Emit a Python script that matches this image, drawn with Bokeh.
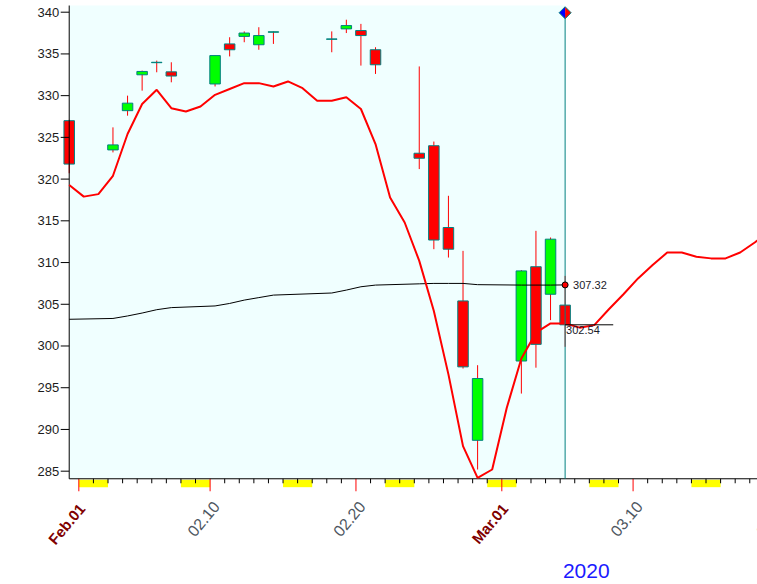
import math
from bokeh.plotting import figure
from bokeh.models import Range1d
from bokeh.core.properties import value
from bokeh.embed import file_html
from bokeh.resources import INLINE

# ---------------- data (days counted from Feb 1 2020) ----------------
candle_day = [-1, 2, 3, 4, 5, 6, 9, 10, 11, 12, 13, 17, 18, 19, 20,
              23, 24, 25, 26, 27, 30, 31, 32, 33]
open_ = [327.0, 323.5, 328.2, 332.5, 333.95, 332.85, 331.4, 336.2, 337.1, 336.1,
         337.6, 336.75, 338.0, 337.8, 335.5, 323.1, 324.0, 314.2, 305.4, 288.7,
         298.2, 309.5, 306.2, 304.9]
high = [327.1, 326.2, 330.0, 333.0, 334.2, 334.0, 334.8, 337.0, 337.7, 338.2,
        337.7, 337.7, 339.1, 338.6, 335.8, 333.5, 324.5, 318.0, 311.4, 297.7,
        309.1, 313.8, 313.0, 308.4]
low = [320.7, 323.2, 327.6, 330.6, 332.8, 331.6, 331.1, 334.7, 336.4, 335.5,
       336.2, 335.2, 337.5, 333.6, 332.6, 321.2, 311.6, 310.6, 297.3, 285.2,
       294.3, 297.4, 303.1, 299.9]
close = [321.8, 324.1, 329.1, 332.9, 334.0, 332.35, 334.8, 335.5, 337.5, 337.2,
         337.65, 336.8, 338.4, 337.2, 333.7, 322.5, 312.7, 311.6, 297.5, 296.1,
         309.0, 300.2, 312.8, 302.54]
ma_value = [303.2, 303.3, 303.6, 303.95, 304.35, 304.6, 304.8, 305.1, 305.5, 305.8,
            306.1, 306.35, 306.7, 307.1, 307.3, 307.45, 307.5, 307.5, 307.5, 307.35,
            307.3, 307.3, 307.3, 307.32]
curve_day = list(range(-1, 48))
curve_value = [319.3, 317.9, 318.2, 320.4, 325.4, 329.0, 330.7, 328.5, 328.1, 328.7,
               330.1, 330.8, 331.5, 331.5, 331.1, 331.7, 330.9, 329.4, 329.4, 329.8,
               328.4, 324.2, 317.8, 314.8, 310.2, 304.2, 296.6, 288.0, 284.2, 285.2,
               292.6, 298.5, 301.6, 302.7, 302.7, 302.2, 302.5, 304.4, 306.2, 308.1,
               309.7, 311.2, 311.2, 310.7, 310.5, 310.5, 311.2, 312.4, 313.7]
weekend_start = [0, 7, 14, 21, 28, 35, 42]
month_tick_day = [0, 29]
month_tick_label = ["Feb.01", "Mar.01"]
day_tick_day = [9, 19, 38, 48]
day_tick_label = ["02.10", "02.20", "03.10", "03.20"]
y_ticks = [285, 290, 295, 300, 305, 310, 315, 320, 325, 330, 335, 340]
year_label = "2020"

# ---------------- layout ----------------
W, H = 757, 584
X_START, X_END = -5.711, 46.19
Y_TOP, Y_BOTTOM = 341.402, 271.42
AXIS_X = -1.0          # y axis sits on first candle
AXIS_Y = 284.09        # bottom of price panel
PANEL_TOP = 340.80     # top of price panel
TICK_SHIFT = 0.34      # day boundary relative to candle centre
YEAR_X = 34.45
PPX = W / (X_END - X_START)
PPU = H / (Y_TOP - Y_BOTTOM)
FONT = value("Liberation Sans")

p = figure(width=W, height=H, x_range=Range1d(X_START, X_END),
           y_range=Range1d(Y_BOTTOM, Y_TOP), output_backend="svg",
           toolbar_location=None, x_axis_location=None, y_axis_location=None,
           min_border=0, outline_line_color=None,
           background_fill_color="white", border_fill_color="white")
p.grid.visible = False

last_day = candle_day[-1]

# panel background up to last candle
p.quad(left=AXIS_X, right=last_day, bottom=AXIS_Y, top=PANEL_TOP,
       fill_color="#F0FFFF", line_color=None)

# weekend marks under the axis
p.quad(left=[s - TICK_SHIFT for s in weekend_start],
       right=[s + 2 - TICK_SHIFT for s in weekend_start],
       top=AXIS_Y - 1.0 / PPU, bottom=AXIS_Y - 8.4 / PPU,
       fill_color="#FFFF00", line_color=None)

major_days = set(month_tick_day + day_tick_day)
minor_x = [d - TICK_SHIFT for d in range(0, 48) if d not in major_days]
p.segment(x0=minor_x, x1=minor_x, y0=[AXIS_Y] * len(minor_x),
          y1=[AXIS_Y - 4.5 / PPU] * len(minor_x), line_color="black", line_width=1)
major_x = [d - TICK_SHIFT for d in sorted(major_days)]
p.segment(x0=major_x, x1=major_x, y0=[AXIS_Y] * len(major_x),
          y1=[AXIS_Y - 12.5 / PPU] * len(major_x), line_color="red", line_width=1)

# candles
p.segment(x0=candle_day, x1=candle_day, y0=low, y1=high, line_color="red", line_width=1)
body_top = [max(o, c) for o, c in zip(open_, close)]
body_bot = [min(o, c) for o, c in zip(open_, close)]
body_col = ["#00FF00" if c > o else "#FF0000" for o, c in zip(open_, close)]
p.vbar(x=candle_day, width=0.72, top=body_top, bottom=body_bot,
       fill_color=body_col, line_color="#008080", line_width=1)

# axes lines
p.segment(x0=AXIS_X, y0=AXIS_Y, x1=X_END, y1=AXIS_Y, line_color="black", line_width=1)
p.segment(x0=AXIS_X, y0=AXIS_Y, x1=AXIS_X, y1=PANEL_TOP, line_color="black", line_width=1)
p.segment(x0=[AXIS_X - 8.5 / PPX] * len(y_ticks), x1=[AXIS_X] * len(y_ticks),
          y0=y_ticks, y1=y_ticks, line_color="black", line_width=1)
p.text(x=[AXIS_X] * len(y_ticks), y=y_ticks, text=[str(v) for v in y_ticks],
       x_offset=-10, text_align="right", text_baseline="middle",
       text_font=FONT, text_font_size="13px", text_color="#1c1c1c")

# moving average and curve
p.line(candle_day, ma_value, line_color="black", line_width=1)
p.line(curve_day, curve_value, line_color="red", line_width=2)

# last-day marker line and diamond
hw, hh = 6.0 / PPX, 6.0 / PPU
yc = PANEL_TOP - 7.2 / PPU
p.segment(x0=last_day, x1=last_day, y0=AXIS_Y, y1=yc, line_color="#008080", line_width=1)
p.patches(xs=[[last_day - hw, last_day, last_day], [last_day, last_day + hw, last_day]],
          ys=[[yc, yc + hh, yc - hh], [yc + hh, yc, yc - hh]],
          fill_color=["#0000FF", "#FF0000"], line_color=None)
p.patch([last_day - hw, last_day, last_day + hw, last_day],
        [yc, yc + hh, yc, yc - hh], fill_color=None, line_color="#008080", line_width=1)

# last close line and labels
p.segment(x0=last_day, x1=last_day + 3.3, y0=close[-1], y1=close[-1],
          line_color="black", line_width=1)
p.scatter([last_day], [ma_value[-1]], size=6, marker="circle",
          fill_color="red", line_color="black", line_width=1)
p.text(x=[last_day], y=[ma_value[-1]], text=[f"{ma_value[-1]:.2f}"], x_offset=8,
       text_align="left", text_baseline="middle", text_font=FONT,
       text_font_size="11px", text_color="#1a1a2a")
p.text(x=[last_day], y=[close[-1]], text=[f"{close[-1]:.2f}"], x_offset=1, y_offset=1,
       text_align="left", text_baseline="top", text_font=FONT,
       text_font_size="11px", text_color="#1a1a2a")

# x labels
ang = math.radians(50)
p.text(x=[d - TICK_SHIFT for d in month_tick_day], y=[AXIS_Y] * len(month_tick_day),
       text=month_tick_label, angle=ang, x_offset=3, y_offset=27,
       text_align="right", text_baseline="middle", text_font=FONT,
       text_font_size="15px", text_font_style="bold", text_color="#800000")
p.text(x=[d - TICK_SHIFT for d in day_tick_day], y=[AXIS_Y] * len(day_tick_day),
       text=day_tick_label, angle=ang, x_offset=6, y_offset=24.5,
       text_align="right", text_baseline="middle", text_font=FONT,
       text_font_size="16px", text_color="#4d5660")
p.text(x=[YEAR_X], y=[AXIS_Y], text=[year_label], y_offset=92.5,
       text_align="center", text_baseline="middle", text_font=FONT,
       text_font_size="21px", text_color="#1a1aff")

open("out.html", "w").write(file_html(p, INLINE))
